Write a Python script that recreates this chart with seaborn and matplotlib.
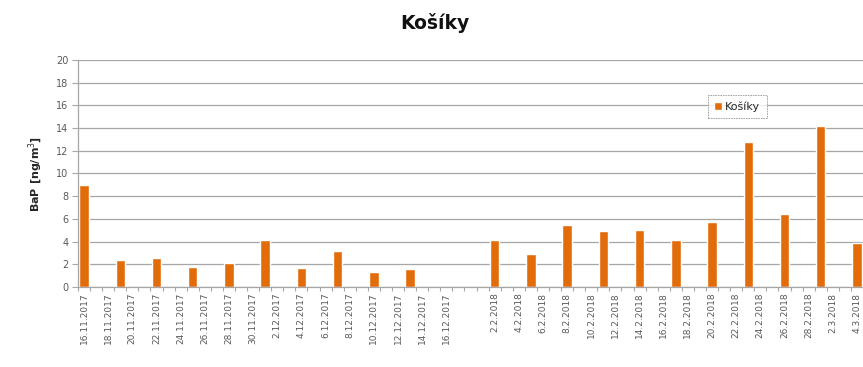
import numpy as np
import pandas as pd
import matplotlib
matplotlib.use("Agg")
import matplotlib.pyplot as plt
import seaborn as sns

# Sampling days (every third day) and BaP concentrations
sample_dates = [
    "16.11.2017", "19.11.2017", "22.11.2017", "25.11.2017", "28.11.2017",
    "1.12.2017", "4.12.2017", "7.12.2017", "10.12.2017", "13.12.2017",
    "2.2.2018", "5.2.2018", "8.2.2018", "11.2.2018", "14.2.2018",
    "17.2.2018", "20.2.2018", "23.2.2018", "26.2.2018", "1.3.2018", "4.3.2018",
]
bap_values = [
    9.0, 2.35, 2.55, 1.75, 2.1,
    4.15, 1.7, 3.2, 1.3, 1.55,
    4.15, 2.9, 5.45, 4.95, 5.05,
    4.1, 5.7, 12.8, 6.4, 14.2, 3.85,
]

# Category axis: daily days of the two campaigns, separated by empty slots
period_1 = pd.date_range("2017-11-16", "2017-12-16", freq="D")
period_2 = pd.date_range("2018-02-02", "2018-03-04", freq="D")
gap_slots = [" ", "  ", "   "]

def fmt(d):
    return f"{d.day}.{d.month}.{d.year}"

categories = [fmt(d) for d in period_1] + gap_slots + [fmt(d) for d in period_2]
tick_labels = [c.strip() if i % 2 == 0 else "" for i, c in enumerate(categories)]

station = "Košíky"
df = pd.DataFrame({"datum": sample_dates, "BaP": bap_values})

sns.set_theme(style="white")
plt.rcParams["font.family"] = ["DejaVu Sans"]

fig = plt.figure(figsize=(8.63, 3.67), dpi=100)
ax = fig.add_axes([78 / 863, 0.218, 1 - 78 / 863, 0.8365 - 0.218])

bar_color = "#E36C0A"
sns.barplot(data=df, x="datum", y="BaP", order=categories, color=bar_color,
            width=0.78, saturation=1, ax=ax, label=station, errorbar=None)

ax.set_xlim(-0.5, len(categories) - 0.5)
ax.set_ylim(0, 20)
ax.set_yticks(np.arange(0, 21, 2))
ax.yaxis.grid(True, color="#A6A6A6", linewidth=0.9)
ax.set_axisbelow(True)

ax.set_xticks(range(len(categories)))
ax.set_xticklabels(tick_labels, rotation=90, fontsize=6.5, color="#595959")
ax.set_xticks(np.arange(-0.5, len(categories), 1), minor=True)
ax.tick_params(axis="x", which="major", length=0, pad=4)
ax.tick_params(axis="x", which="minor", length=3, color="#A6A6A6", width=0.8, bottom=True)
ax.tick_params(axis="y", labelsize=7, colors="#595959", length=4, width=0.8,
               left=True, color="#A6A6A6", pad=3)

for side in ["top", "right"]:
    ax.spines[side].set_visible(False)
ax.spines["left"].set_color("#A6A6A6")
ax.spines["bottom"].set_color("#A6A6A6")
ax.spines["left"].set_linewidth(0.9)
ax.spines["bottom"].set_linewidth(0.9)

ax.set_xlabel("")
ax.set_ylabel("BaP [ng/m$^3$]", fontsize=8, fontweight="bold", color="#262626", labelpad=8)

fig.suptitle(station, x=435 / 863, y=0.965, fontsize=13.5, fontweight="bold", color="#111111")

leg = ax.legend(loc="upper left", bbox_to_anchor=((702 - 78) / 785, (367 - 89 - 80) / (367 * (0.8365 - 0.218))),
                fontsize=8, frameon=True, fancybox=False, handlelength=0.7, handleheight=0.7,
                handletextpad=0.3, borderpad=0.6)
leg.get_frame().set_edgecolor("#7F7F7F")
leg.get_frame().set_linewidth(0.6)
leg.get_frame().set_linestyle((0, (2, 1)))

fig.savefig("out.png", dpi=100)
